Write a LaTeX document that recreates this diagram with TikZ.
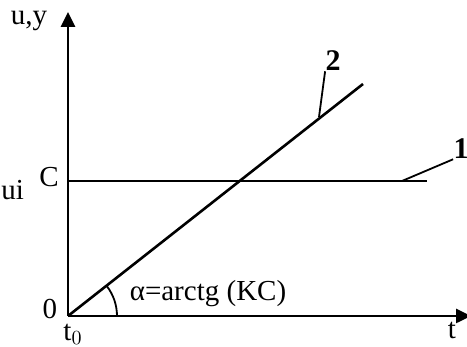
\documentclass[tikz,border=0pt]{standalone}
\usepackage{fontspec}
\setmainfont{Liberation Serif}
\usepackage{tikz}
\usetikzlibrary{arrows.meta,positioning}

\begin{document}
\begin{tikzpicture}[
      x=0.5pt,y=0.5pt,
      lbl/.style={inner sep=0pt,font=\fontsize{14.5}{16}\selectfont},
      num/.style={lbl,font=\fontsize{15}{17}\selectfont\bfseries},
      ax/.style={-{Triangle[length=7.5pt,width=7pt]},line width=1.3pt},
      ln/.style={line width=1.3pt},
      lead/.style={line width=0.9pt}]
    \useasboundingbox (0,0) rectangle (467,347);
    % axes
    \coordinate (O) at (68,31);
    \coordinate (ytop) at (68,335);
    \coordinate (xend) at (471,31);
    \draw[ax] (O) -- (ytop);
    \draw[ax] (O) -- (xend);
    % curves
    \coordinate (cl) at (68,166);
    \coordinate (cr) at (427,166);
    \coordinate (rampend) at (363,263);
    \draw[ln] (cl) -- (cr);
    \draw[ln] (O) -- (rampend);
    \draw[lead] (O) ++(49,0) arc[start angle=0,end angle=38,radius=49];
    % labels
    \node[lbl] (uy) at (29,326) {u,y};
    \node[lbl] (tlab) at (452,17) {t};
    \node[lbl] (zero) at (50,38) {0};
    \node[lbl,anchor=south] (tnull) at (73,2) {t$_0$};
    \node[lbl] (clab) at (49,170) {C};
    \node[lbl,anchor=west] (ui) at (1,157) {ui};
    \node[lbl] (alpha) at (208,53) {α=arctg (KC)};
    \node[num] (one) at (461,198) {1};
    \node[num] (two) at (333,286) {2};
    \coordinate (onefoot) at (402,166);
    \coordinate (twofoot) at (319,230);
    \draw[lead] (onefoot) -- (one.south west);
    \draw[lead] (twofoot) -- (two.south west);
  \end{tikzpicture}
\end{document}
